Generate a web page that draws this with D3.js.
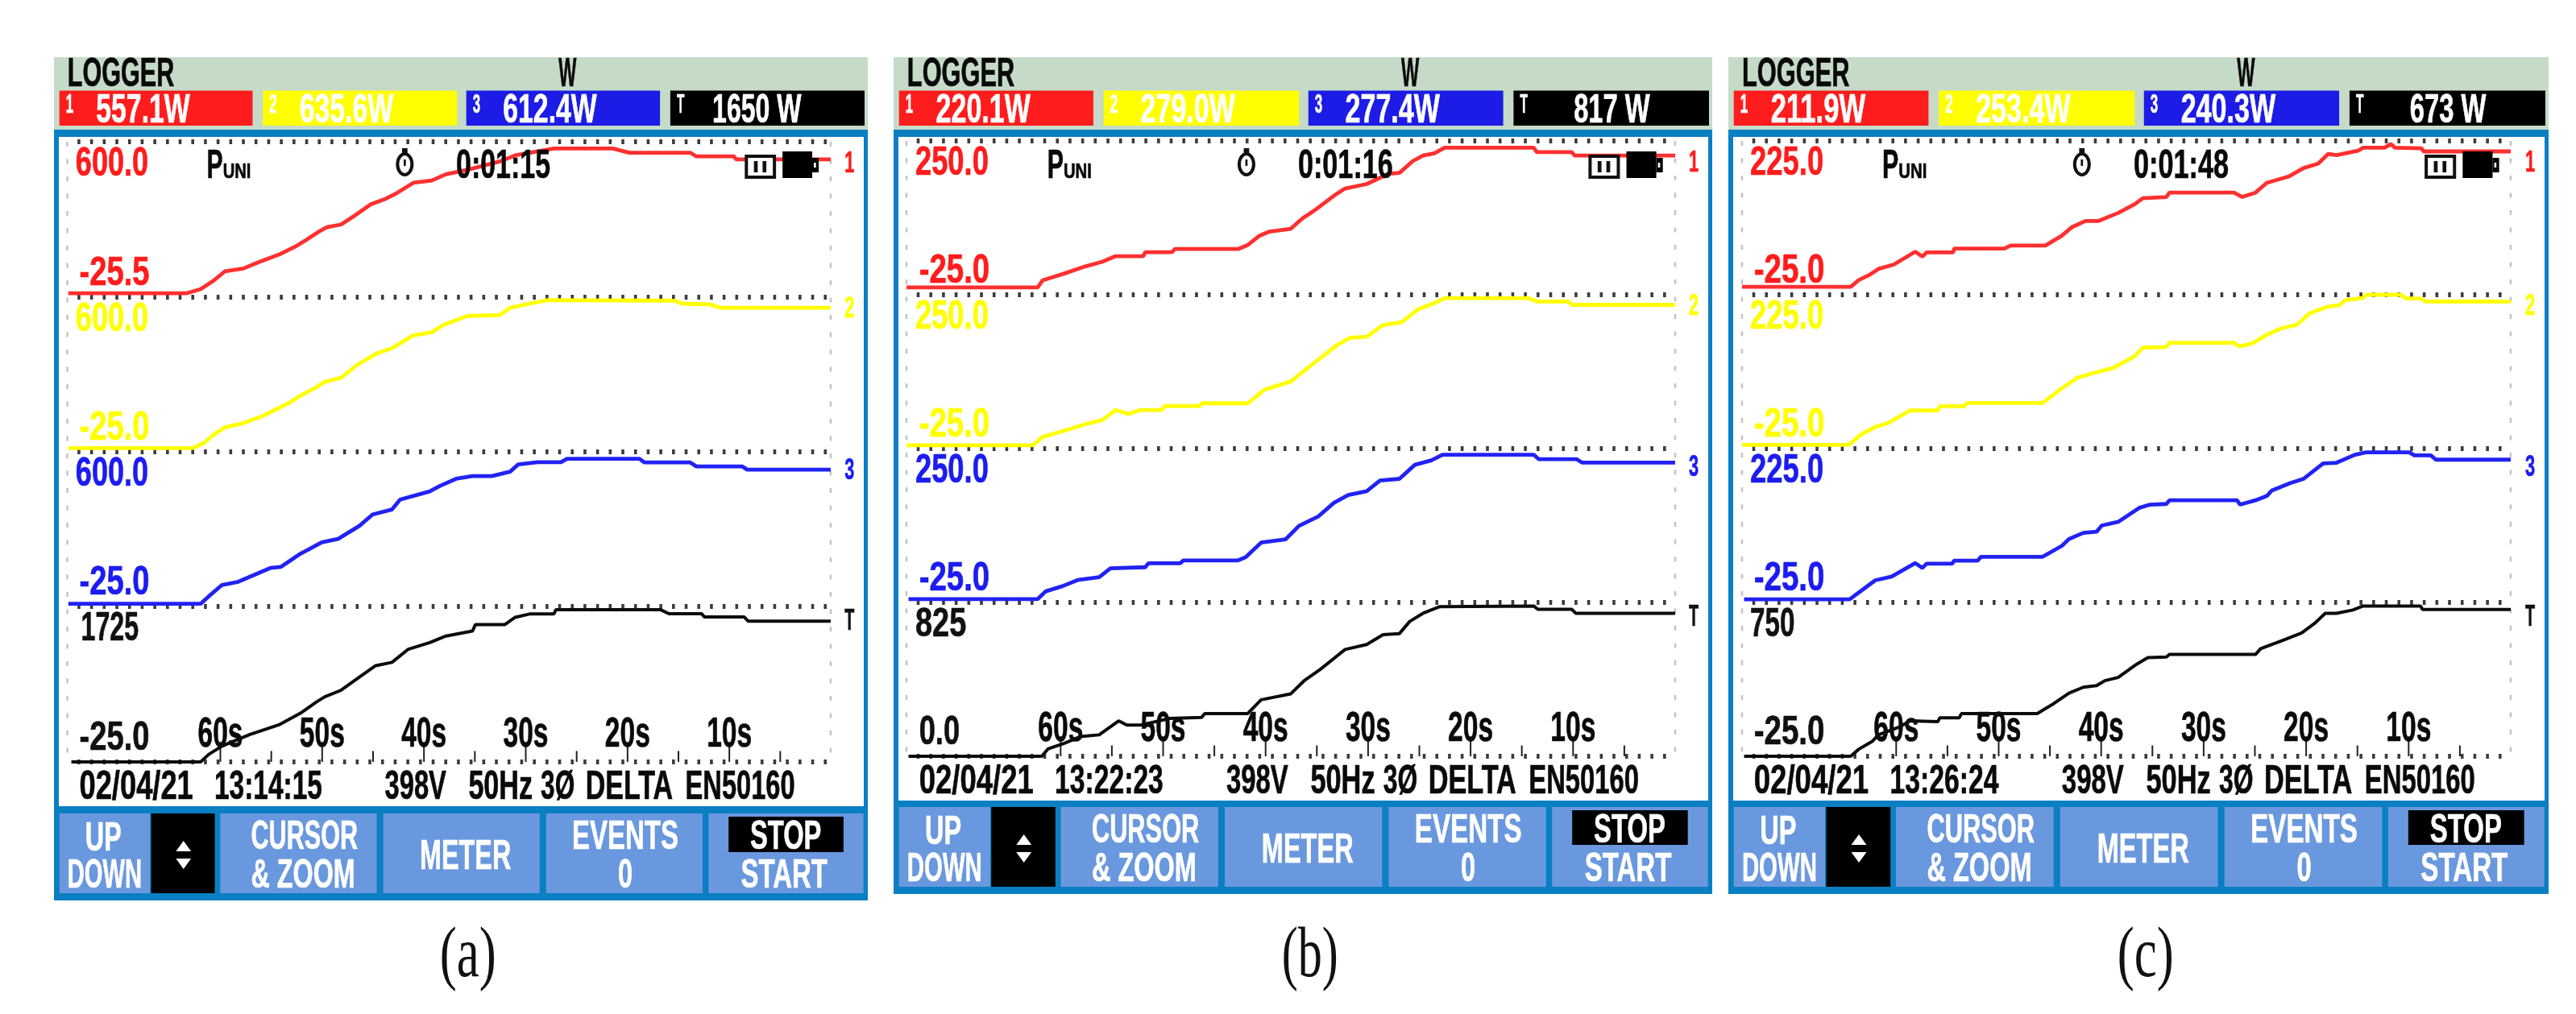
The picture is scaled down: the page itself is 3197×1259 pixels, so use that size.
<!DOCTYPE html>
<html><head><meta charset="utf-8">
<script src="https://cdn.jsdelivr.net/npm/d3@7"></script>
<style>html,body{margin:0;padding:0;background:#fff}svg{display:block;filter:blur(.7px)}</style>
</head><body><svg id="c" width="3197" height="1259"></svg>
<script>
// ---- data: [seconds before end of record, watts] ----
const aRed=[[74.9,-10],[63.3,-10],[61.9,7],[60.6,42],[59.5,79],[57.7,90],[56.3,114],[54.2,146],[52.6,178],[51.6,203],[50.3,238],[49.5,256],[48.1,267],[46.8,302],[45.2,348],[43.7,371],[42.6,394],[41,435],[39.2,444],[37.8,469],[35.7,487],[32.5,521],[31,545],[27.2,573],[21.4,573],[19.8,556],[13.8,556],[13.2,541],[9.5,541],[9.3,529],[0,529]];
const aYellow=[[74.9,-10],[62.7,-10],[61.6,10],[60.6,45],[59.5,74],[57.7,91],[55.8,120],[53.2,173],[52.1,202],[50.5,237],[49.7,258],[48.1,275],[46.6,324],[44.7,371],[43.1,394],[41,446],[39.2,458],[38.1,487],[35.7,524],[32.5,528],[31.5,557],[29.6,574],[27.8,588],[15.3,586],[14.6,574],[11.9,571],[10.8,557],[0,557]];
const aBlue=[[74.9,-14],[61.9,-14],[61.1,16],[59.8,62],[58.2,75],[55,131],[54,135],[52.1,188],[50,234],[48.4,248],[46.3,301],[45,347],[43.1,367],[42.3,407],[39.4,440],[38.4,462],[36.8,491],[35.2,502],[33.3,502],[31.5,520],[30.7,549],[28.8,558],[26.5,558],[25.9,572],[18.8,572],[18.3,557],[13.8,557],[13.2,541],[8.7,541],[8.2,528],[0,528]];
const aTotal=[[74.6,-25],[61.9,-25],[61.1,60],[59.8,153],[57.1,282],[54.2,393],[52.1,523],[50.5,652],[49.7,708],[48.1,782],[46.3,930],[44.7,1059],[43.1,1096],[41.5,1244],[39.4,1318],[37.8,1392],[35.2,1448],[34.9,1522],[32,1522],[31,1603],[29.6,1640],[27.2,1640],[27,1688],[16.7,1688],[15.9,1644],[12.7,1644],[12.4,1607],[8.5,1607],[8.1,1559],[0,1559]];
const bRed=[[75,-12],[62.2,-12],[61.7,1],[59.6,13],[57.5,26],[55.9,34],[54.6,44],[51.9,44],[51.7,51],[49.1,51],[48.8,57],[42.6,57],[41.7,64],[40.6,80],[39.6,88],[37.5,93],[36.4,111],[35.1,127],[33.3,152],[32.2,165],[30.1,173],[28,191],[26.9,193],[25.6,214],[24.6,224],[23.5,228],[22.5,238],[13.8,238],[13.5,230],[10.1,230],[9.8,224],[0,224]];
const bYellow=[[75,-19],[62.7,-19],[61.7,-4],[59.6,7],[57.5,19],[55.9,26],[54.6,44],[53.3,37],[52.2,44],[50.1,44],[49.8,51],[46.4,51],[46.2,56],[41.7,56],[40.1,80],[37.5,95],[36.2,114],[34.6,137],[33,160],[31.7,173],[30.1,175],[28.5,196],[26.7,201],[25.1,224],[23.5,235],[22.5,244],[14.3,244],[13.5,238],[10.4,238],[10.1,232],[0,232]];
const bBlue=[[74.8,-19],[62.2,-19],[61.4,-5],[59.8,4],[58.3,15],[56.2,20],[55.1,36],[51.7,38],[51.4,45],[48.3,45],[48,50],[42.7,50],[41.9,56],[40.4,82],[38,88],[36.7,112],[34.8,129],[33.3,153],[31.9,167],[30.1,174],[28.8,193],[26.9,196],[25.4,221],[23.8,229],[22.7,239],[13.8,239],[13.3,231],[9.6,231],[9.1,225],[0,225]];
const bTotal=[[74.8,0],[61.8,0],[61.2,39],[59.6,70],[58,106],[56.2,115],[54.3,190],[53.5,167],[52.2,167],[49.3,203],[46.2,208],[45.9,229],[41.7,229],[40.4,303],[37.5,335],[36.2,405],[34.6,467],[33,538],[32.2,573],[30.1,599],[28.5,652],[26.9,658],[25.9,723],[24.6,767],[23,802],[13.8,806],[13.4,788],[10.1,788],[9.7,767],[0,767]];
const cRed=[[75,-12],[64.4,-12],[63.6,-1],[62.5,8],[61.7,17],[60.2,24],[58.1,45],[57.4,37],[57,44],[54.4,44],[54.3,50],[49.4,50],[48.8,55],[45.4,55],[43.8,71],[42.8,85],[41.5,95],[40.2,95],[38.3,108],[36.7,122],[35.9,132],[33.6,134],[33.3,141],[27,141],[26.2,134],[24.9,141],[23.8,157],[21.7,167],[20.2,181],[18.8,188],[17.8,204],[17,202],[14.9,209],[14.4,214],[12.3,214],[11.7,220],[11.3,214],[8.7,213],[8.5,208],[0,208]];
const cYellow=[[75,-19],[64.6,-19],[63.3,-1],[62,10],[60.7,17],[58.6,37],[55.9,37],[55.7,44],[53.3,44],[53.1,49],[45.7,49],[43.8,73],[42.3,90],[40.9,97],[38.8,106],[36.7,125],[35.9,139],[33.6,140],[33.3,147],[27,147],[26.5,141],[25.2,146],[23.8,160],[22.3,171],[20.9,176],[19.6,195],[17.8,206],[16.7,208],[16.2,216],[14.4,220],[14.1,225],[10.7,225],[10.2,219],[8.8,219],[8.3,214],[0,214]];
const cBlue=[[74.8,-20],[64.5,-20],[63.3,-5],[62,11],[60.4,17],[58.1,39],[57.4,31],[57,38],[54.5,38],[54.3,43],[52,43],[51.7,49],[45.7,49],[43.8,67],[43.1,78],[41.7,88],[40.4,90],[39.9,100],[38.3,106],[36.2,129],[35.2,134],[33.6,135],[33.3,141],[26.7,141],[26.4,134],[24.9,141],[23.8,148],[23.3,157],[21.5,169],[20.2,176],[18.3,201],[17,202],[15.2,215],[14.1,219],[9.9,219],[9.4,214],[7.8,214],[7.3,207],[0,207]];
const cTotal=[[74.8,-25],[64.4,-25],[63.6,11],[62.3,50],[61.7,83],[59.6,124],[58.6,154],[55.9,149],[55.7,169],[53.8,169],[53.6,190],[46.2,190],[44.6,240],[43.1,293],[41.7,323],[40.4,331],[39.6,356],[38.3,372],[36.5,439],[35.4,472],[33.6,475],[33.3,488],[24.9,488],[24.4,517],[22.3,558],[20.4,596],[19.1,646],[18.1,695],[17,695],[15.4,712],[14.4,732],[8.8,732],[8.6,715],[0,715]];

const captions=["(a)","(b)","(c)"];
const readingsA=["557.1W","635.6W","612.4W","1650 W"];
const readingsB=["220.1W","279.0W","277.4W","817 W"];
const readingsC=["211.9W","253.4W","240.3W","673 W"];
const elapsed=["0:01:15","0:01:16","0:01:48"];
const clockTimes=["13:14:15","13:22:23","13:26:24"];
const topLabelsA=["600.0","600.0","600.0","1725"];
const topLabelsB=["250.0","250.0","250.0","825"];
const topLabelsC=["225.0","225.0","225.0","750"];
const bottomLabelsA=["-25.5","-25.0","-25.0","-25.0"];
const bottomLabelsB=["-25.0","-25.0","-25.0","0.0"];
const bottomLabelsC=["-25.0","-25.0","-25.0","-25.0"];
const topValuesA=[600,600,600,1725], topValuesB=[250,250,250,825], topValuesC=[225,225,225,750];
const bottomValuesA=[-25.5,-25,-25,-25], bottomValuesB=[-25,-25,-25,0], bottomValuesC=[-25,-25,-25,-25];
const majorTicks=[60,50,40,30,20,10], minorTicks=[55,45,35,25,15,5];
const channelNames=["1","2","3","T"];
const channelColors=["#ff3030","#ffff00","#2222f4","#0c0c0c"];
const labelColors=["#ff1c1c","#ffff00","#1c1cf0","#111111"];

// ---- layout of each instrument screen ----
const layouts=[
 {L:67,W:1010,x75:83.5,x0:1031,dots:[176,369,561,753,946],white:1001,bar:1010,barB:1109,end:1118,stopB:1058,
  series:[aRed,aYellow,aBlue,aTotal],read:readingsA,tops:topLabelsA,bots:bottomLabelsA,tv:topValuesA,bv:bottomValuesA},
 {L:1109,W:1016,x75:1125,x0:2079,dots:[175,366,557,748,939],white:994,bar:1002,barB:1101,end:1110,stopB:1049,
  series:[bRed,bYellow,bBlue,bTotal],read:readingsB,tops:topLabelsB,bots:bottomLabelsB,tv:topValuesB,bv:bottomValuesB},
 {L:2145,W:1018,x75:2162,x0:3116,dots:[175,366,557,748,939],white:994,bar:1002,barB:1101,end:1110,stopB:1049,
  series:[cRed,cYellow,cBlue,cTotal],read:readingsC,tops:topLabelsC,bots:bottomLabelsC,tv:topValuesC,bv:bottomValuesC}
];
const FONT="'Liberation Sans',Arial,sans-serif";
const svg=d3.select("#c");

layouts.forEach((p,pi)=>{
  const g=svg.append("g");
  const X=d=>p.L+(d-25)*p.W/1508;              // horizontal placement inside a screen
  const label=(str,x1,x2,yTop,yBot,col)=>{
    const size=(yBot-yTop)/0.67;
    return g.append("text").attr("x",X(x1)).attr("y",yBot).text(str)
     .attr("font-family",FONT).attr("font-weight",700).attr("font-size",size).attr("fill",col)
     .attr("stroke",col).attr("stroke-width",0.7)
     .attr("textLength",X(x2)-X(x1)).attr("lengthAdjust","spacingAndGlyphs");
  };
  const rect=(x1,x2,y1,y2,col)=>g.append("rect").attr("x",x1).attr("y",y1).attr("width",x2-x1).attr("height",y2-y1).attr("fill",col);

  // header
  rect(p.L,p.L+p.W,71,161,"#c6dac8");
  label("LOGGER",50,248,74,107,"#0a0a0a");
  label("W",960,993,74,107,"#0a0a0a");
  [[35,393],[412,772],[789,1148],[1167,1527]].forEach((b,i)=>{
    rect(X(b[0]),X(b[1]),112.5,156,i==0?"#ff1c1c":i==1?"#ffff00":i==2?"#1c1ce6":"#000");
    label(channelNames[i],b[0]+12,b[0]+26,118,140,"#fff");
    const s=p.read[i];
    const x1=i==3?(s.length==6?1245:1278):b[0]+68;
    const x2=i==3?(s.length==6?1410:1418):b[0]+242;
    label(s,x1,x2,118,152,"#fff");
  });

  // frame
  rect(p.L,p.L+p.W,161,p.end,"#0a7fc2");
  rect(p.L+6,p.L+p.W-5,170,p.white,"#fff");

  // time scale
  const x=d3.scaleLinear().domain([75,0]).range([p.x75,p.x0]);

  // edge dots
  [75,0].forEach(t=>g.append("line").attr("x1",x(t)).attr("x2",x(t)).attr("y1",p.dots[0]).attr("y2",p.dots[4])
     .attr("stroke","#c4c4c4").attr("stroke-width",2.5).attr("stroke-dasharray","6 15.5"));
  // strip boundaries
  p.dots.forEach(y=>g.append("line").attr("x1",x(74)).attr("x2",x(0)).attr("y1",y).attr("y2",y)
     .attr("stroke","#3c3c3c").attr("stroke-width",6).attr("stroke-dasharray","3.6 12.1"));

  // time axis
  const base=p.dots[4];
  const minor=d3.axisTop(x).tickValues(minorTicks).tickSize(13.5).tickSizeOuter(0).tickFormat("");
  const major=d3.axisTop(x).tickValues(majorTicks).tickSize(19.5).tickSizeOuter(0).tickFormat(d=>d+"s").tickPadding(0);
  const gm=g.append("g").attr("transform",`translate(0,${base})`).call(minor);
  const gM=g.append("g").attr("transform",`translate(0,${base})`).call(major);
  [gm,gM].forEach(a=>{a.select(".domain").remove();a.selectAll("line").attr("stroke","#222").attr("stroke-width",2);});
  gM.selectAll("text").attr("font-family",FONT).attr("font-weight",700).attr("font-size",51).attr("fill","#0a0a0a")
    .attr("stroke","#0a0a0a").attr("stroke-width",0.7)
    .attr("text-anchor","middle").attr("y",-19.5)
    .attr("textLength",56).attr("lengthAdjust","spacingAndGlyphs");

  // traces
  p.series.forEach((s,i)=>{
    const y=d3.scaleLinear().domain([p.bv[i],p.tv[i]]).range([p.dots[i+1],p.dots[i]]);
    const line=d3.line().x(d=>x(d[0])).y(d=>y(d[1]));
    g.append("path").datum(s).attr("d",line).attr("fill","none").attr("stroke",channelColors[i]).attr("stroke-width",i==3?4:4.8).attr("stroke-linejoin","bevel");
    // strip scale labels
    const tl=p.tops[i], bl=p.bots[i];
    const tw=tl.length==5?135:(tl.length==4?107:(pi==2?82:94));
    const tx=tl.length==5?65:(pi==0?75:65);
    label(tl,tx,tx+tw,p.dots[i]+8,p.dots[i]+42,labelColors[i]);
    const bw=bl.length==5?130:75;
    label(bl,72,72+bw,p.dots[i+1]-49,p.dots[i+1]-15.5,labelColors[i]);
    // channel mark
    const off=[13,0,9,4][i];
    label(channelNames[i],1490,1508,p.dots[i]+off,p.dots[i]+off+25,labelColors[i]);
  });

  // status line
  label("P",308,338,187,221,"#0a0a0a");
  label("UNI",338,390,204,221,"#0a0a0a");
  g.append("ellipse").attr("cx",X(675)).attr("cy",204).attr("rx",9).attr("ry",13).attr("fill","#fff").attr("stroke","#111").attr("stroke-width",4);
  rect(X(670),X(680),184,192,"#111");
  rect(X(673),X(677),198,206,"#111");
  label(elapsed[pi],770,945,187,221,"#0a0a0a");
  // instrument status icons
  g.append("rect").attr("x",X(1308)).attr("y",194).attr("width",X(1360)-X(1308)).attr("height",26).attr("fill","#fff").attr("stroke","#111").attr("stroke-width",4);
  rect(X(1322),X(1329),200,214,"#111");rect(X(1338),X(1345),200,214,"#111");
  rect(X(1375),X(1430),188,221,"#000");rect(X(1430),X(1442),196,214,"#000");
  rect(X(1433),X(1437),202,208,"#fff");

  // footer
  const ftop=p.white-43, fbot=p.white-9;
  label("02/04/21",72,283,ftop,fbot,"#0a0a0a");
  label(clockTimes[pi],322,522,ftop,fbot,"#0a0a0a");
  label("398V",638,752,ftop,fbot,"#0a0a0a");
  label("50Hz",793,912,ftop,fbot,"#0a0a0a");
  label("3Ø",927,990,ftop,fbot,"#0a0a0a");
  label("DELTA",1010,1172,ftop,fbot,"#0a0a0a");
  label("EN50160",1195,1398,ftop,fbot,"#0a0a0a");

  // buttons
  const btn="#6a98de";
  [[35,203],[333,623],[635,925],[937,1227],[1238,1525]].forEach(b=>rect(X(b[0]),X(b[1]),p.bar,p.barB,btn));
  rect(X(205),X(323),p.bar,p.barB,"#000");
  g.append("path").attr("fill","#fff").attr("d",d3.line()([[X(265),p.bar+34],[X(251),p.bar+47],[X(279),p.bar+47]])+"Z");
  g.append("path").attr("fill","#fff").attr("d",d3.line()([[X(265),p.bar+69],[X(251),p.bar+56],[X(279),p.bar+56]])+"Z");
  rect(X(1275),X(1488),p.bar+4,p.stopB,"#000");
  const r1T=p.bar+10,r1B=p.bar+44,r2T=p.bar+58,r2B=p.bar+92,r0T=p.bar+34,r0B=p.bar+69;
  label("UP",83,150,r1T+2,r1B+2,"#fff");
  label("DOWN",50,188,r2T,r2B,"#fff");
  label("CURSOR",390,588,r1T,r1B,"#fff");
  label("& ZOOM",390,583,r2T,r2B,"#fff");
  label("METER",703,872,r0T,r0B,"#fff");
  label("EVENTS",985,1182,r1T,r1B,"#fff");
  label("0",1070,1097,r2T,r2B,"#fff");
  label("STOP",1315,1447,r1T,r1B,"#fff");
  label("START",1298,1458,r2T,r2B,"#fff");

  // caption
  g.append("text").text(captions[pi]).attr("x",X(792)).attr("y",1212).attr("text-anchor","middle")
   .attr("font-family","'Liberation Serif',serif").attr("font-size",88).attr("fill","#111")
   .attr("textLength",70).attr("lengthAdjust","spacingAndGlyphs");
});
</script></body></html>
